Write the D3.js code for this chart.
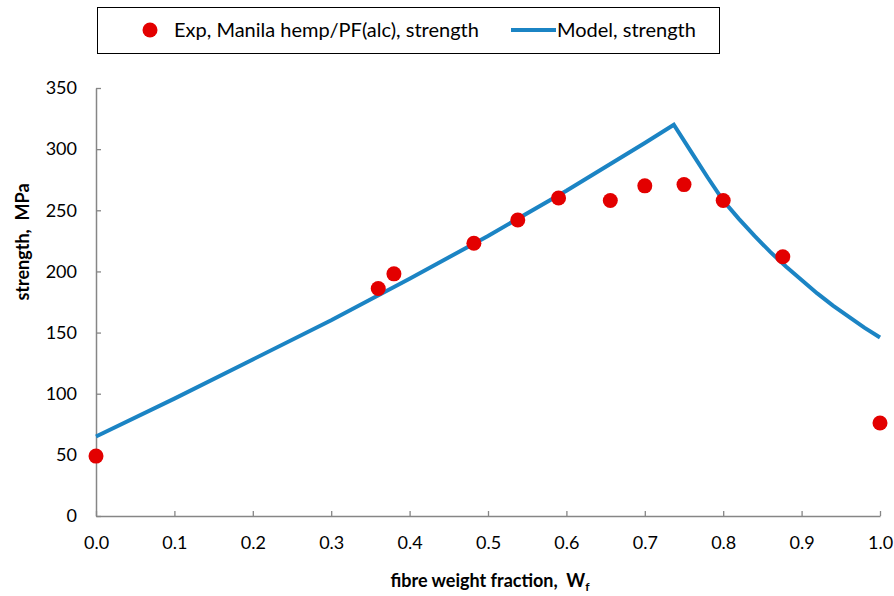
<!DOCTYPE html>
<html>
<head>
<meta charset="utf-8">
<script src="https://cdn.jsdelivr.net/npm/d3@7"></script>
<style>
  body { margin: 0; background: #fff; }
  svg { font-family: Lato, "Open Sans", sans-serif; }
</style>
</head>
<body>
<svg id="chart"></svg>
<script>
// experimental points, Manila hemp/PF(alc)
var expWf = [0.0, 0.36, 0.38, 0.482, 0.538, 0.59, 0.656, 0.70, 0.75, 0.80, 0.876, 1.0];
var expStrength = [49, 186, 198, 223, 242, 260, 258, 270, 271, 258, 212, 76];

// model curve
var modelWf = [0.0, 0.1, 0.2, 0.3, 0.4, 0.5, 0.6, 0.7, 0.737,
  0.76, 0.78, 0.80, 0.82, 0.84, 0.86, 0.88, 0.90, 0.92, 0.94, 0.96, 0.98, 1.0];
var modelStrength = [65, 96, 128, 160, 194, 229, 266, 305, 320,
  297, 277, 258, 243, 229, 216, 204, 193, 182, 172, 163, 154, 146];

var xTicks = [0, 0.1, 0.2, 0.3, 0.4, 0.5, 0.6, 0.7, 0.8, 0.9, 1.0];
var yTicks = [0, 50, 100, 150, 200, 250, 300, 350];

var vWidth = 894;
var vHeight = 596;
var margin = {left: 96, right: 14, top: 88, bottom: 80};

var svg = d3.select('#chart')
    .attr('width', vWidth)
    .attr('height', vHeight);

var x = d3.scaleLinear().domain([0, 1]).range([margin.left, vWidth - margin.right]);
var y = d3.scaleLinear().domain([0, 350]).range([vHeight - margin.bottom, margin.top]);

var axisColor = '#868686';

// y axis, ticks point inwards
var gy = svg.append('g')
    .attr('transform', 'translate(' + x(0) + ',0)')
    .call(d3.axisLeft(y).tickValues(yTicks).tickSizeInner(-5).tickSizeOuter(0).tickPadding(19));
gy.select('.domain').attr('stroke', axisColor).attr('stroke-width', 1.5);
gy.selectAll('.tick line').attr('stroke', axisColor).attr('stroke-width', 1.3);
gy.selectAll('.tick text').attr('font-size', 18).attr('fill', '#000')
    .attr('font-family', 'Lato, sans-serif');

// x axis
var gx = svg.append('g')
    .attr('transform', 'translate(0,' + y(0) + ')')
    .call(d3.axisBottom(x).tickValues(xTicks).tickFormat(d3.format('.1f'))
        .tickSizeInner(-5).tickSizeOuter(0).tickPadding(20));
gx.select('.domain').attr('stroke', axisColor).attr('stroke-width', 1.5);
gx.selectAll('.tick line').attr('stroke', axisColor).attr('stroke-width', 1.3);
gx.selectAll('.tick text').attr('font-size', 18).attr('fill', '#000')
    .attr('font-family', 'Lato, sans-serif');

// axis titles
svg.append('text')
    .attr('transform', 'translate(29,242) rotate(-90)')
    .attr('text-anchor', 'middle')
    .attr('font-weight', 'bold')
    .attr('font-size', 18)
    .attr('xml:space', 'preserve')
    .text('strength,  MPa');

var xt = svg.append('text')
    .attr('x', 490)
    .attr('y', 587)
    .attr('text-anchor', 'middle')
    .attr('font-weight', 'bold')
    .attr('font-size', 18)
    .attr('xml:space', 'preserve');
xt.append('tspan').text('fibre weight fraction,  W');
xt.append('tspan').attr('font-size', 12).attr('dy', 4).text('f');

// model line
var modelPts = modelWf.map(function (d, i) { return [d, modelStrength[i]]; });
svg.append('path')
    .datum(modelPts)
    .attr('fill', 'none')
    .attr('stroke', '#1b84c4')
    .attr('stroke-width', 4)
    .attr('stroke-linejoin', 'miter')
    .attr('d', d3.line()
        .x(function (d) { return x(d[0]); })
        .y(function (d) { return y(d[1]); }));

// experiment markers
svg.selectAll('circle.exp')
    .data(expWf.map(function (d, i) { return [d, expStrength[i]]; }))
    .enter()
    .append('circle')
    .attr('class', 'exp')
    .attr('cx', function (d) { return x(d[0]); })
    .attr('cy', function (d) { return y(d[1]); })
    .attr('r', 7.5)
    .attr('fill', '#e30000');

// legend
var lg = svg.append('g');
lg.append('rect')
    .attr('x', 97.5).attr('y', 7.5)
    .attr('width', 622).attr('height', 46)
    .attr('fill', '#fff')
    .attr('stroke', '#000')
    .attr('stroke-width', 1);
lg.append('circle')
    .attr('cx', 150).attr('cy', 30).attr('r', 7.5)
    .attr('fill', '#e30000');
lg.append('text')
    .attr('x', 174).attr('y', 37)
    .attr('font-size', 20)
    .text('Exp, Manila hemp/PF(alc), strength');
lg.append('line')
    .attr('x1', 511).attr('x2', 556)
    .attr('y1', 30).attr('y2', 30)
    .attr('stroke', '#1b84c4')
    .attr('stroke-width', 4);
lg.append('text')
    .attr('x', 557).attr('y', 37)
    .attr('font-size', 20)
    .text('Model, strength');
</script>
</body>
</html>
